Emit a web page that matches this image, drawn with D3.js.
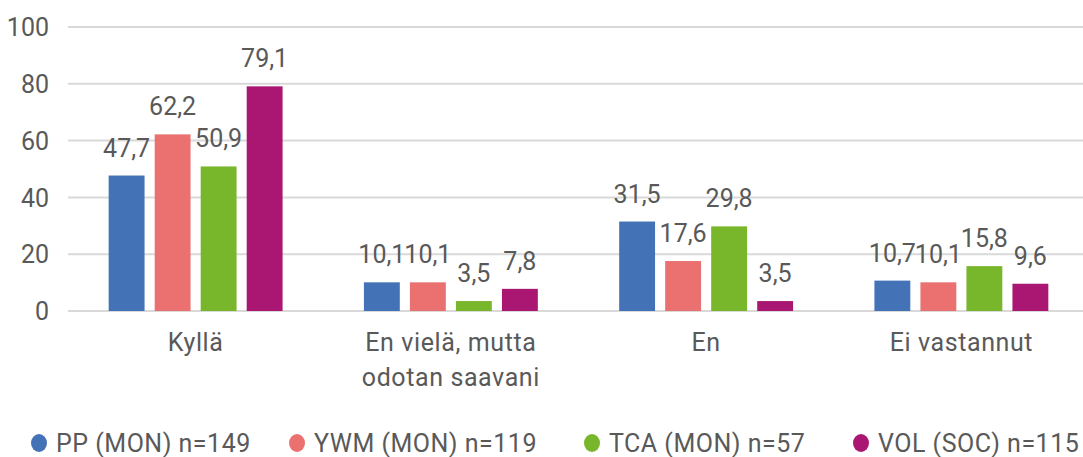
<!DOCTYPE html>
<meta charset="utf-8">
<script src="https://d3js.org/d3.v7.min.js"></script>
<style type="text/css">
body { margin: 0; background: #fff; }
svg { display: block; }
text { font-family: Roboto, "DejaVu Sans", sans-serif; fill: #595959; }
.grid line { stroke: #d9d9d9; stroke-width: 2px; }
.value-label { font-size: 25px; }
.cat-label { font-size: 25px; letter-spacing: 0.6px; }
.legend text { font-size: 25px; letter-spacing: 0.5px; }
</style>
<body></body>
<script>

// categories and series
var categories = ["Kyllä", "En vielä, mutta odotan saavani", "En", "Ei vastannut"];
var categoryLines = [["Kyllä"], ["En vielä, mutta", "odotan saavani"], ["En"], ["Ei vastannut"]];
var seriesNames = ["PP (MON) n=149", "YWM (MON) n=119", "TCA (MON) n=57", "VOL (SOC) n=115"];
var seriesColors = ["#4472b6", "#ea7170", "#78b72b", "#a91772"];

var pp  = [47.7, 10.1, 31.5, 10.7];
var ywm = [62.2, 10.1, 17.6, 10.1];
var tca = [50.9, 3.5, 29.8, 15.8];
var vol = [79.1, 7.8, 3.5, 9.6];
var seriesValues = [pp, ywm, tca, vol];

var yTicks = [0, 20, 40, 60, 80, 100];

var width = 1083, height = 457;

var svg = d3.select("body").append("svg")
    .attr("width", width)
    .attr("height", height);

var x0 = d3.scaleBand()
  .domain(categories)
  .range([68, 1089])
  .paddingInner(0.279)
  .paddingOuter(0.1395);

var x1 = d3.scaleBand()
  .domain(seriesNames)
  .range([0, x0.bandwidth()])
  .paddingInner(0.22)
  .paddingOuter(0.11);

var y = d3.scaleLinear()
  .domain([0, 100])
  .range([311, 27]);

// gridlines
svg.append("g")
    .attr("class", "grid")
  .selectAll("line")
  .data(yTicks)
  .enter().append("line")
    .attr("x1", 68)
    .attr("x2", width)
    .attr("y1", function(d) { return y(d); })
    .attr("y2", function(d) { return y(d); });

// y axis labels
var yAxis = d3.axisLeft(y)
  .tickValues(yTicks)
  .tickSize(0)
  .tickPadding(0);

svg.append("g")
    .attr("class", "y axis")
    .attr("transform", "translate(49,0)")
    .call(yAxis)
    .call(function(g) { g.select(".domain").remove(); })
    .selectAll("text")
    .attr("fill", "#595959")
    .attr("dy", "0.35em")
    .style("font-family", "Roboto, sans-serif")
    .style("font-size", "25px");

// bars
var groups = svg.selectAll(".cat-group")
  .data(categories)
  .enter().append("g")
    .attr("class", "cat-group")
    .attr("transform", function(d) { return "translate(" + x0(d) + ",0)"; });

groups.selectAll("rect")
  .data(function(d, i) {
    return seriesNames.map(function(s, j) { return {series: s, value: seriesValues[j][i], color: seriesColors[j]}; });
  })
  .enter().append("rect")
    .attr("x", function(d) { return x1(d.series); })
    .attr("y", function(d) { return y(d.value); })
    .attr("width", x1.bandwidth())
    .attr("height", function(d) { return y(0) - y(d.value); })
    .attr("fill", function(d) { return d.color; });

groups.selectAll(".value-label")
  .data(function(d, i) {
    return seriesNames.map(function(s, j) { return {series: s, value: seriesValues[j][i]}; });
  })
  .enter().append("text")
    .attr("class", "value-label")
    .attr("text-anchor", "middle")
    .attr("x", function(d) { return x1(d.series) + x1.bandwidth() / 2; })
    .attr("y", function(d) { return y(d.value) - 19; })
    .text(function(d) { return String(d.value).replace(".", ","); });

// category labels
var catLabels = svg.selectAll(".cat-label")
  .data(categories)
  .enter().append("text")
    .attr("class", "cat-label")
    .attr("text-anchor", "middle")
    .attr("x", function(d) { return x0(d) + x0.bandwidth() / 2; })
    .attr("y", 351);

catLabels.selectAll("tspan")
  .data(function(d, i) { return categoryLines[i]; })
  .enter().append("tspan")
    .attr("x", function() { return d3.select(this.parentNode).attr("x"); })
    .attr("dy", function(d, i) { return i === 0 ? 0 : 35; })
    .text(function(d) { return d; });

// legend
var legendX = [39, 297, 592, 861];
var legend = svg.append("g")
    .attr("class", "legend")
  .selectAll("g")
  .data(seriesNames)
  .enter().append("g")
    .attr("transform", function(d, i) { return "translate(" + legendX[i] + ",443)"; });

legend.append("ellipse")
    .attr("rx", 8)
    .attr("ry", 9)
    .attr("fill", function(d, i) { return seriesColors[i]; });

legend.append("text")
    .attr("x", 17)
    .attr("y", 9)
    .text(function(d) { return d; });

</script>
